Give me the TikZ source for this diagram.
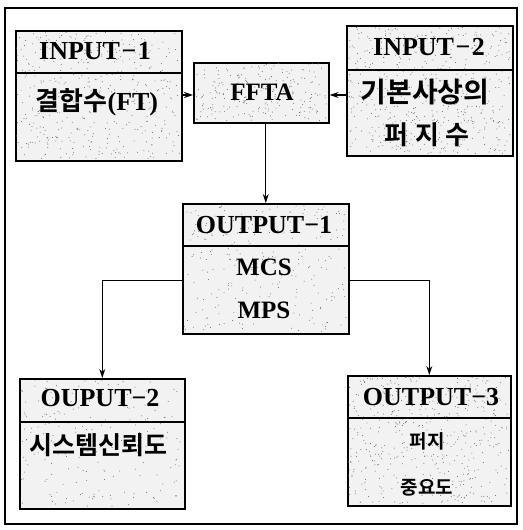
\documentclass[tikz,border=0pt]{standalone}
\usepackage{fontspec}
\setmainfont{Liberation Serif}
\newfontfamily\lat{Liberation Serif}
\newfontfamily\kor{Noto Sans CJK KR}[BoldFont={* Bold}]
\usetikzlibrary{arrows.meta}
\tikzset{
  panel/.style={draw=black, line width=1.6pt, fill=black!5, anchor=north west, inner sep=0pt},
  title/.style={font=\lat\bfseries\fontsize{26}{28}\selectfont, inner sep=0pt},
  body/.style={font=\kor\bfseries\fontsize{26}{28}\selectfont, inner sep=0pt},
  sbody/.style={font=\kor\bfseries\fontsize{19}{21}\selectfont, inner sep=0pt},
  latin/.style={font=\lat\bfseries\fontsize{25}{27}\selectfont, inner sep=0pt},
  link/.style={line width=1.1pt, -{Stealth[length=9pt,width=6pt]}},
  rule/.style={line width=1.3pt}
}
% speckled shading inside a box: #1 node, #2 width, #3 height, #4 dot count
\newcommand\speckle[4]{%
  \foreach \k in {1,...,#4}{%
    \pgfmathsetmacro\rx{1.5+rnd*(#2-3)}%
    \pgfmathsetmacro\ry{1.5+rnd*(#3-3)}%
    \fill[black!60] (#1.north west) ++(\rx,\ry) circle (0.5pt);
  }%
}
\newcommand\dash{\kern1.5pt−\kern1.5pt}
\begin{document}
\begin{tikzpicture}[x=1pt,y=-1pt]
\pgfmathsetseed{7}
\useasboundingbox (0,0) rectangle (522,530);
% outer frame
\draw[line width=1.6pt] (5,8) rectangle (517,524);

% boxes
\node[panel, minimum width=166pt, minimum height=130pt] (in1) at (15,30) {};
\node[panel, minimum width=135pt, minimum height=60pt] (ffta) at (193,62) {};
\node[panel, minimum width=166pt, minimum height=130pt] (in2) at (346,25) {};
\node[panel, minimum width=166pt, minimum height=130pt] (out1) at (182,203) {};
\node[panel, minimum width=165pt, minimum height=130pt] (out2) at (19,378) {};
\node[panel, minimum width=163pt, minimum height=130pt] (out3) at (347,375) {};

% speckle texture
\speckle{in1}{166}{130}{420}
\speckle{ffta}{135}{60}{220}
\speckle{in2}{166}{130}{520}
\speckle{out1}{166}{130}{260}
\speckle{out2}{165}{130}{200}
\speckle{out3}{163}{130}{480}

% header dividers
\draw[rule] (in1.north west) ++(0,43) -- ++(166,0);
\draw[rule] (in2.north west) ++(0,45) -- ++(166,0);
\draw[rule] (out1.north west) ++(0,43) -- ++(166,0);
\draw[rule] (out2.north west) ++(0,44) -- ++(165,0);
\draw[rule] (out3.north west) ++(0,43) -- ++(163,0);

% texts
\node[title] (in1t) at (95,51) {INPUT\dash 1};
\node[body] (in1b) at (97,102) {결합수{\lat\bfseries(FT)}};
\node[latin] (fftat) at (262,92) {FFTA};
\node[title] (in2t) at (429,47) {INPUT\dash 2};
\node[body, font=\kor\bfseries\fontsize{28}{30}\selectfont] (in2a) at (425,92) {기본사상의};
\node[body] (in2b) at (427,135) {퍼\hspace{0.25em}지\hspace{0.25em}수};
\node[title] (out1t) at (264,225) {OUTPUT−1};
\node[latin] (mcs) at (264,267) {MCS};
\node[latin] (mps) at (264,310) {MPS};
\node[title] (out2t) at (100,398) {OUPUT−2};
\node[body, font=\kor\bfseries\fontsize{25}{27}\selectfont] (out2b) at (98,445) {시스템신뢰도};
\node[title] (out3t) at (431,397) {OUTPUT−3};
\node[sbody] (out3a) at (427,441) {퍼지};
\node[sbody] (out3b) at (427,488) {중요도};

% connectors
\draw[link] (in1.east |- 0,95) -- (ffta.west |- 0,95);
\draw[link] (in2.west |- 0,95) -- (ffta.east |- 0,95);
\draw[link] (ffta.south -| out1.north) -- (out1.north);
\draw[link] ([yshift=-12pt]out1.west) -| (out2.north);
\draw[link] ([yshift=-12pt]out1.east) -| (out3.north);
\end{tikzpicture}
\end{document}
